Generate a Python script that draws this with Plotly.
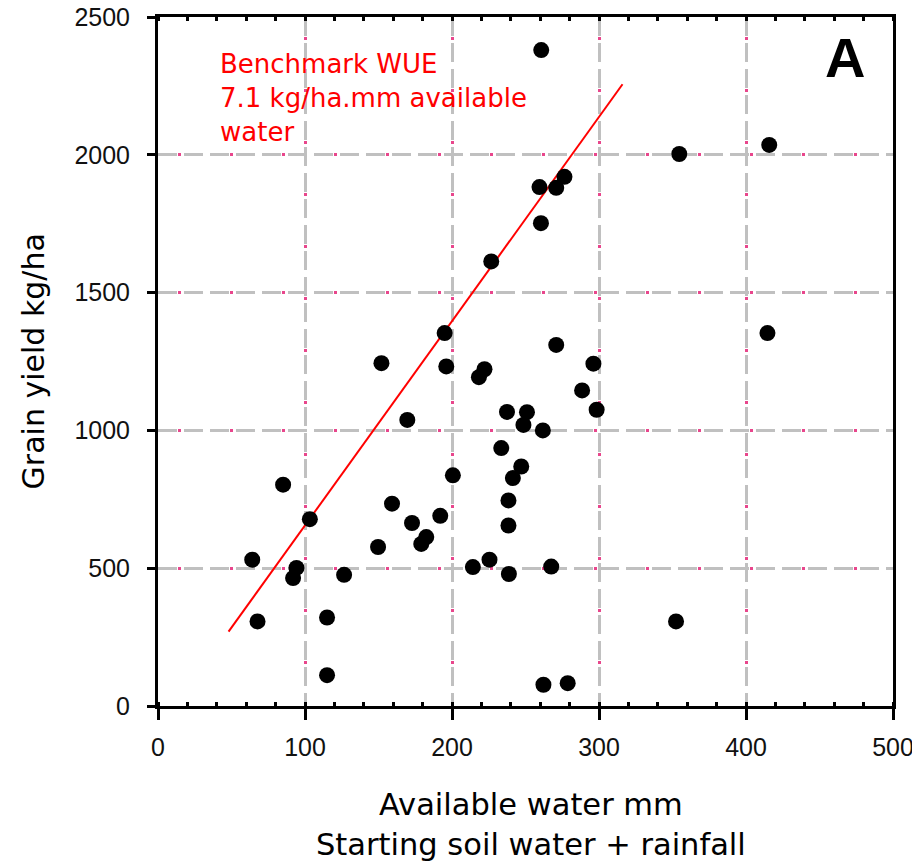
import plotly.graph_objects as go

# Observations: available water (mm) vs grain yield (kg/ha)
water_mm = [260.7, 354.6, 415.8, 259.5, 270.9, 276.5, 260.5, 226.7, 195.0, 270.9,
            152.0, 196.1, 222.1, 218.3, 296.2, 414.6, 288.5, 298.4, 237.4, 251.0,
            248.6, 261.8, 169.6, 233.5, 247.1, 241.4, 200.6, 85.1, 159.2, 238.4,
            172.8, 192.0, 103.3, 238.4, 182.5, 179.1, 149.7, 64.1, 94.2, 91.9,
            126.6, 214.2, 225.5, 238.7, 267.5, 67.7, 115.0, 352.4, 115.0, 262.2,
            278.7]
yield_kg = [2380, 2003, 2036, 1883, 1880, 1920, 1752, 1613, 1353, 1310,
            1244, 1232, 1222, 1193, 1242, 1353, 1145, 1075, 1067, 1066,
            1020, 1000, 1038, 936, 869, 827, 837, 803, 734, 746,
            664, 690, 678, 655, 613, 588, 577, 531, 501, 464,
            476, 504, 531, 479, 506, 307, 321, 307, 112, 77,
            83]

# Benchmark WUE line (drawn end points)
wue_x = [48, 316]
wue_y = [270, 2256]

x_ticks = [0, 100, 200, 300, 400, 500]
y_ticks = [0, 500, 1000, 1500, 2000, 2500]

benchmark_text = "Benchmark WUE<br>7.1 kg/ha.mm available<br>water"
panel_label = "A"
x_title = "Available water mm<br>Starting soil water + rainfall"
y_title = "Grain yield kg/ha"

# page offset (browser body margin)
OFF = 8
W, H = 920, 863
# desired plot area in page pixels
P_LEFT, P_RIGHT, P_TOP, P_BOTTOM = 158, 893.3, 17, 706.3
L = P_LEFT - OFF
T = P_TOP - OFF
R = W - (P_RIGHT - OFF)
B = H - (P_BOTTOM - OFF)
pw, ph = W - L - R, H - T - B

def px_x(p):
    return (p - P_LEFT) / pw

def px_y(p):
    return (P_BOTTOM - p) / ph

fig = go.Figure()
fig.add_trace(go.Scatter(x=wue_x, y=wue_y, mode="lines",
                         line=dict(color="#ff0000", width=2), showlegend=False))
fig.add_trace(go.Scatter(x=water_mm, y=yield_kg, mode="markers",
                         marker=dict(color="black", size=16, line=dict(width=0)),
                         showlegend=False))
# invisible trace on overlay axes so they render
fig.add_trace(go.Scatter(x=[None], y=[None], xaxis="x2", yaxis="y2", showlegend=False))

grid_gray = "#c0c0c0"
pink = "#e8468c"
tickfont = dict(family="Liberation Sans, Arial", size=25, color="#111")

fig.update_layout(
    width=W, height=H,
    margin=dict(l=L, r=R, t=T, b=B, autoexpand=False),
    paper_bgcolor="white", plot_bgcolor="white",
    xaxis=dict(range=[0, 500], tickvals=x_ticks, ticktext=[str(v) for v in x_ticks],
               showline=True, linecolor="black", linewidth=3, mirror=True,
               ticks="outside", ticklen=11, tickwidth=3, tickcolor="black",
               minor=dict(ticks="inside", ticklen=4, tickwidth=3, tickcolor="black", dtick=20, showgrid=False),
               showgrid=True, gridcolor=grid_gray, gridwidth=3, griddash="19px,7px",
               zeroline=False, tickfont=tickfont, ticklabelstandoff=6, automargin=False,
               ticklabeloverflow="allow"),
    yaxis=dict(range=[0, 2500], tickvals=y_ticks, ticktext=[str(v) for v in y_ticks],
               showline=True, linecolor="black", linewidth=3, mirror=True,
               ticks="outside", ticklen=8, tickwidth=3, tickcolor="black",
               showgrid=True, gridcolor=grid_gray, gridwidth=3, griddash="19px,7px",
               zeroline=False, tickfont=tickfont, ticklabelstandoff=12, automargin=False,
               ticklabeloverflow="allow"),
    xaxis2=dict(overlaying="x", matches="x", side="top", anchor="y",
                tickvals=x_ticks, showticklabels=False, ticks="",
                minor=dict(ticks="inside", ticklen=4, tickwidth=3, tickcolor="black", dtick=20, showgrid=False),
                showgrid=True, gridcolor=pink, gridwidth=3, griddash="0px,20px,3px,29px",
                showline=False, zeroline=False, automargin=False),
    yaxis2=dict(overlaying="y", matches="y", side="right", anchor="x",
                tickvals=y_ticks, showticklabels=False, ticks="",
                showgrid=True, gridcolor=pink, gridwidth=3, griddash="0px,20px,3px,29px",
                showline=False, zeroline=False, automargin=False),
    annotations=[
        dict(text=benchmark_text, xref="paper", yref="paper", x=px_x(218), y=px_y(47),
             xanchor="left", yanchor="top", align="left", showarrow=False,
             font=dict(family="DejaVu Sans", size=26, color="#ff0000")),
        dict(text=panel_label, xref="paper", yref="paper", x=px_x(845), y=px_y(58),
             xanchor="center", yanchor="middle", showarrow=False,
             font=dict(family="Liberation Sans, Arial", size=56, color="black", weight="bold")),
        dict(text=x_title, xref="paper", yref="paper", x=px_x(531), y=px_y(825),
             xanchor="center", yanchor="middle", align="center", showarrow=False,
             font=dict(family="DejaVu Sans", size=30.5, color="black")),
        dict(text=y_title, xref="paper", yref="paper", x=px_x(33), y=px_y(361.5),
             xanchor="center", yanchor="middle", textangle=-90, showarrow=False,
             font=dict(family="DejaVu Sans", size=30, color="black")),
    ],
)

fig.write_html("out.html")
